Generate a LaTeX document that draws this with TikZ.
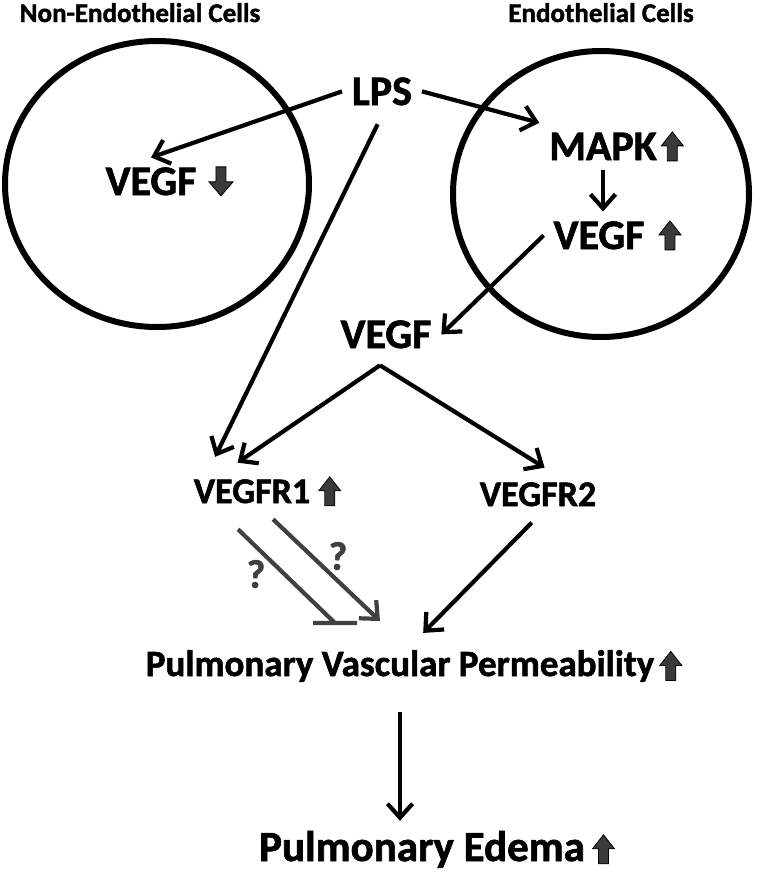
\documentclass[tikz,border=0pt]{standalone}
\usepackage{fontspec}
\setmainfont{Carlito}[BoldFeatures={FakeBold=1.5}]
\usepackage{tikz}
\usetikzlibrary{positioning,shapes.geometric,calc,arrows.meta}
\definecolor{markgray}{RGB}{58,58,58}
\definecolor{linegray}{RGB}{64,64,64}
\newcommand{\upmark}{\tikz[x=1pt,y=1pt,baseline=0pt]\draw[fill=markgray,line width=0.8pt] (-5,0) -- (-5,15) -- (-11,15) -- (0,29) -- (11,15) -- (5,15) -- (5,0) -- cycle;}
\newcommand{\downmark}{\tikz[x=1pt,y=1pt,baseline=0pt]\draw[fill=markgray,line width=0.8pt] (-5,29) -- (-5,14) -- (-12,14) -- (0,0) -- (12,14) -- (5,14) -- (5,29) -- cycle;}

\begin{document}
\begin{tikzpicture}[x=1pt,y=-1pt,line width=4pt,
	biglabel/.style={font=\bfseries\fontsize{42}{44}\selectfont,inner sep=8pt,anchor=base},
	midlabel/.style={font=\bfseries\fontsize{36}{40}\selectfont,inner sep=8pt,anchor=base},
	lowlabel/.style={font=\bfseries\fontsize{37}{40}\selectfont,inner sep=8pt,anchor=base},
	celltitle/.style={font=\bfseries\fontsize{27}{30}\selectfont,anchor=base},
	qlabel/.style={font=\bfseries\fontsize{40}{42}\selectfont,text=linegray},
	cellwall/.style={ellipse,draw=black,line width=6pt},
	markbox/.style={inner sep=0pt},
	sigarrow/.style={-{Straight Barb[length=14pt,width=25pt]},line width=4.2pt},
	grayarrow/.style={sigarrow,draw=linegray}]
	\useasboundingbox (0,0) rectangle (762,876);
	
	\node[celltitle] (nontitle) at (140,22) {Non-Endothelial Cells};
	\node[celltitle] (endtitle) at (601,22) {Endothelial Cells};
	
	\node[cellwall,minimum width=304,minimum height=286] (lcell) at (157,184) {};
	\node[cellwall,minimum width=296,minimum height=286] (rcell) at (601,194) {};
	
	\node[biglabel] (lps) at (382,105) {LPS};
	\node[biglabel,label={[markbox,label distance=2pt]right:\downmark}] (vegfl) at (151,195) {VEGF};
	\node[biglabel,label={[markbox,label distance=-6pt]right:\upmark}] (mapk) at (603,160) {MAPK};
	\node[biglabel,label={[markbox,label distance=4pt]right:\upmark}] (vegfr) at (599,249) {VEGF};
	\node[biglabel] (vegfm) at (386,348) {VEGF};
	
	\node[midlabel,label={[markbox,label distance=-2pt]right:\upmark}] (vegfr1) at (252,503) {VEGFR1};
	\node[midlabel] (vegfr2) at (538,506) {VEGFR2};
	
	\node[lowlabel,label={[markbox,label distance=-5pt]right:\upmark}] (pvp) at (400,676) {Pulmonary Vascular Permeability};
	\node[lowlabel,font=\bfseries\fontsize{43}{46}\selectfont,label={[markbox,label distance=-3pt]right:\upmark}] (edema) at (422,861) {Pulmonary Edema};
	
	\node[qlabel] (q1) at (256,574) {?};
	\node[qlabel] (q2) at (338,556) {?};
	
	\draw[sigarrow] (lps.west) -- (vegfl.north);
	\draw[sigarrow] (lps.east) -- (mapk.north west);
	\draw[sigarrow,shorten <=10pt,shorten >=14pt] (lps.south) -- (vegfr1.153);
	\draw[sigarrow] (mapk.south) -- (mapk.south |- vegfr.north);
	\draw[sigarrow] (vegfr.west) -- (vegfm.east);
	
	\coordinate (fork) at ($(vegfm.south)+(-6,7)$);
	\draw[sigarrow,shorten >=12pt] (fork) -- (vegfr1.138);
	\draw[sigarrow,shorten >=9pt] (fork) -- (vegfr2.57);
	
	\draw[linegray,line width=4.2pt] ($(vegfr1.south)+(-14,16)$) -- ($(pvp.north)+(-65,-17)$) ++(-22,0) -- ++(44,0);
	\draw[grayarrow] ($(vegfr1.south)+(21,6)$) -- ($(pvp.north)+(-20,-19)$);
	
	\draw[sigarrow,shorten <=9pt,shorten >=10pt] (vegfr2.south) -- (pvp.58);
	\draw[sigarrow,shorten <=20pt] (pvp.south) -- (pvp.south |- edema.north);
	
\end{tikzpicture}
\end{document}
